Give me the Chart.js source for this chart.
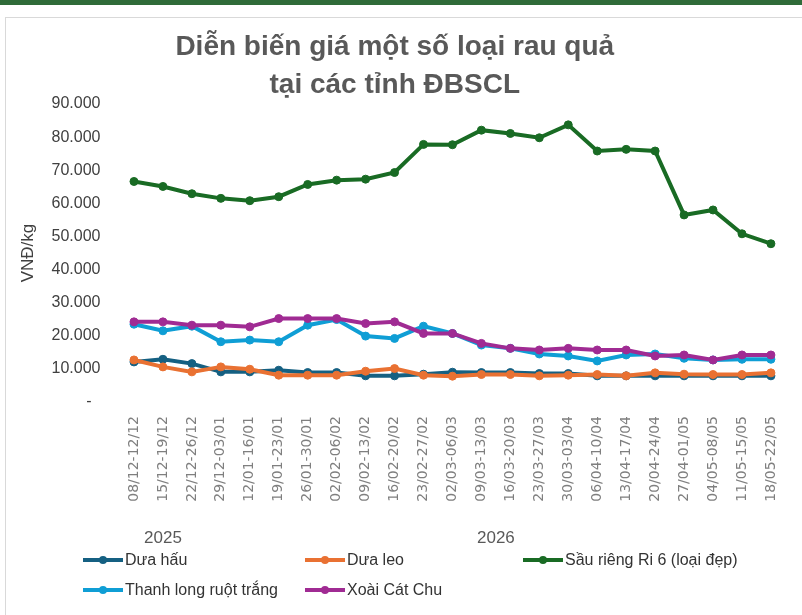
<!DOCTYPE html>
<html>
<head>
<meta charset="utf-8">
<script src="https://cdn.jsdelivr.net/npm/chart.js"></script>
<style>
    html, body { margin: 0; padding: 0; background: #fff; overflow: hidden; }
    #page { position: relative; width: 802px; height: 615px; overflow: hidden; }
    #topbar { position: absolute; left: 0; top: 0; width: 802px; height: 5px; background: #2f6b39; }
    #frame { position: absolute; left: 5px; top: 17px; width: 900px; height: 700px; border: 1px solid #d9d9d9; box-sizing: border-box; }
    #chart { position: absolute; left: 0; top: 0; }
    #legend { position: absolute; left: 83px; top: 545px; display: grid; grid-template-columns: 222px 218px auto; grid-auto-rows: 30px; align-items: center;
              font: 16px "Liberation Sans", Arial, sans-serif; color: #333; }
    .item { display: flex; align-items: center; white-space: nowrap; }
    .mark { position: relative; width: 40px; height: 12px; margin-right: 2px; }
    .mark .ln { position: absolute; left: 0; top: 4px; width: 40px; height: 4px; }
    .mark .dot { position: absolute; left: 16px; top: 2px; width: 8px; height: 8px; border-radius: 50%; }
</style>
</head>
<body>
<div id="page">
    <div id="topbar"></div>
    <div id="frame"></div>
    <canvas id="chart" width="802" height="615"></canvas>
    <div id="legend"></div>
</div>
<script>
// Weekly price labels
const categories = ['08/12-12/12', '15/12-19/12', '22/12-26/12', '29/12-03/01', '12/01-16/01', '19/01-23/01',
    '26/01-30/01', '02/02-06/02', '09/02-13/02', '16/02-20/02', '23/02-27/02', '02/03-06/03',
    '09/03-13/03', '16/03-20/03', '23/03-27/03', '30/03-03/04', '06/04-10/04', '13/04-17/04',
    '20/04-24/04', '27/04-01/05', '04/05-08/05', '11/05-15/05', '18/05-22/05'];

// Year groups under the week labels (index of first and last week)
const yearLabels = ['2025', '2026'];
const yearStart = [0, 3];
const yearEnd = [2, 22];

// Prices, VND/kg
const duaHau = [12100, 12900, 11600, 9100, 9100, 9600, 8900, 8900, 7900, 7900, 8400, 9000,
    8900, 8900, 8600, 8600, 7900, 7900, 7900, 7900, 7900, 7900, 7900];
const duaLeo = [12700, 10600, 9100, 10600, 9900, 8100, 8100, 8100, 9300, 10100, 8100, 7800,
    8300, 8300, 7900, 8100, 8300, 7900, 8800, 8400, 8300, 8300, 8800];
const sauRieng = [66600, 65100, 62900, 61500, 60800, 62000, 65700, 67000, 67300, 69300, 77800, 77700,
    82100, 81100, 79800, 83700, 75800, 76300, 75800, 56500, 58000, 50800, 47800];
const thanhLong = [23500, 21500, 22900, 18200, 18700, 18200, 23200, 24900, 19900, 19200, 22900, 20700,
    17200, 16200, 14500, 13900, 12400, 14200, 14500, 13200, 12700, 12900, 12900];
const xoai = [24200, 24200, 23200, 23200, 22700, 25200, 25200, 25200, 23700, 24200, 20700, 20700,
    17700, 16200, 15700, 16200, 15700, 15700, 13900, 14200, 12700, 14200, 14200];

const seriesNames = ['Dưa hấu', 'Dưa leo', 'Sầu riêng Ri 6 (loại đẹp)', 'Thanh long ruột trắng', 'Xoài Cát Chu'];
const seriesData = [duaHau, duaLeo, sauRieng, thanhLong, xoai];
const seriesColors = ['#156082', '#E97132', '#196B24', '#0F9ED5', '#A02B93'];

const yMin = 0;
const yMax = 90000;
const yStep = 10000;

const datasets = seriesNames.map(function (name, i) {
    return {
        label: name,
        data: seriesData[i],
        borderColor: seriesColors[i],
        backgroundColor: seriesColors[i],
        pointBackgroundColor: seriesColors[i],
        pointBorderColor: seriesColors[i],
        borderWidth: 4,
        pointRadius: 4,
        pointBorderWidth: 1,
        tension: 0,
        order: seriesNames.length - 1 - i   // later series on top, like Excel
    };
});

// Draw the year row under the rotated week labels
const yearGroups = {
    id: 'yearGroups',
    afterDraw(chart) {
        const x = chart.scales.x;
        const ctx = chart.ctx;
        const half = (x.getPixelForValue(1) - x.getPixelForValue(0)) / 2;
        ctx.save();
        ctx.font = '17px "Liberation Sans", Arial, sans-serif';
        ctx.fillStyle = '#595959';
        ctx.textAlign = 'center';
        ctx.textBaseline = 'middle';
        yearLabels.forEach(function (label, i) {
            const left = x.getPixelForValue(yearStart[i]) - half;
            const right = x.getPixelForValue(yearEnd[i]) + half;
            ctx.fillText(label, (left + right) / 2, x.top + 136);
        });
        ctx.restore();
    }
};

const chart = new Chart(document.getElementById('chart'), {
    type: 'line',
    data: { labels: categories, datasets: datasets },
    options: {
        responsive: false,
        animation: false,
        layout: { padding: { top: 2.4, right: 12.5, bottom: 0, left: 0 } },
        plugins: {
            legend: { display: false },
            tooltip: { enabled: false },
            title: {
                display: true,
                text: ['Diễn biến giá một số loại rau quả', 'tại các tỉnh ĐBSCL'],
                color: '#595959',
                font: { family: '"Liberation Sans", Arial, sans-serif', size: 28, weight: 'bold', lineHeight: 1.35 },
                padding: { top: 26, bottom: 0 }
            }
        },
        scales: {
            x: {
                offset: true,
                grid: { display: false, drawTicks: false },
                border: { display: false },
                ticks: {
                    autoSkip: false,
                    minRotation: 90,
                    maxRotation: 90,
                    padding: 14,
                    color: '#7f7f7f',
                    font: { family: '"DejaVu Sans", sans-serif', size: 14 }
                },
                afterFit(scale) { scale.height = 213; }
            },
            y: {
                min: yMin,
                max: yMax,
                grid: { display: false, drawTicks: false },
                border: { display: false },
                ticks: {
                    stepSize: yStep,
                    padding: 19,
                    color: '#404040',
                    font: { family: '"Liberation Sans", Arial, sans-serif', size: 16 },
                    callback: function (value) {
                        if (value === 0) return '-  ';
                        return value.toLocaleString('de-DE');
                    }
                },
                title: {
                    display: true,
                    text: 'VNĐ/kg',
                    color: '#404040',
                    font: { family: '"Liberation Sans", Arial, sans-serif', size: 17 },
                    padding: { top: 18, bottom: 0 }
                },
                afterFit(scale) { scale.width = 119.5; }
            }
        }
    },
    plugins: [yearGroups]
});

// HTML legend, Excel style line + marker
const legendEl = document.getElementById('legend');
chart.data.datasets.forEach(function (ds) {
    const item = document.createElement('div');
    item.className = 'item';
    item.innerHTML = '<span class="mark"><span class="ln" style="background:' + ds.borderColor + '"></span>' +
        '<span class="dot" style="background:' + ds.borderColor + '"></span></span><span>' + ds.label + '</span>';
    legendEl.appendChild(item);
});
</script>
</body>
</html>
